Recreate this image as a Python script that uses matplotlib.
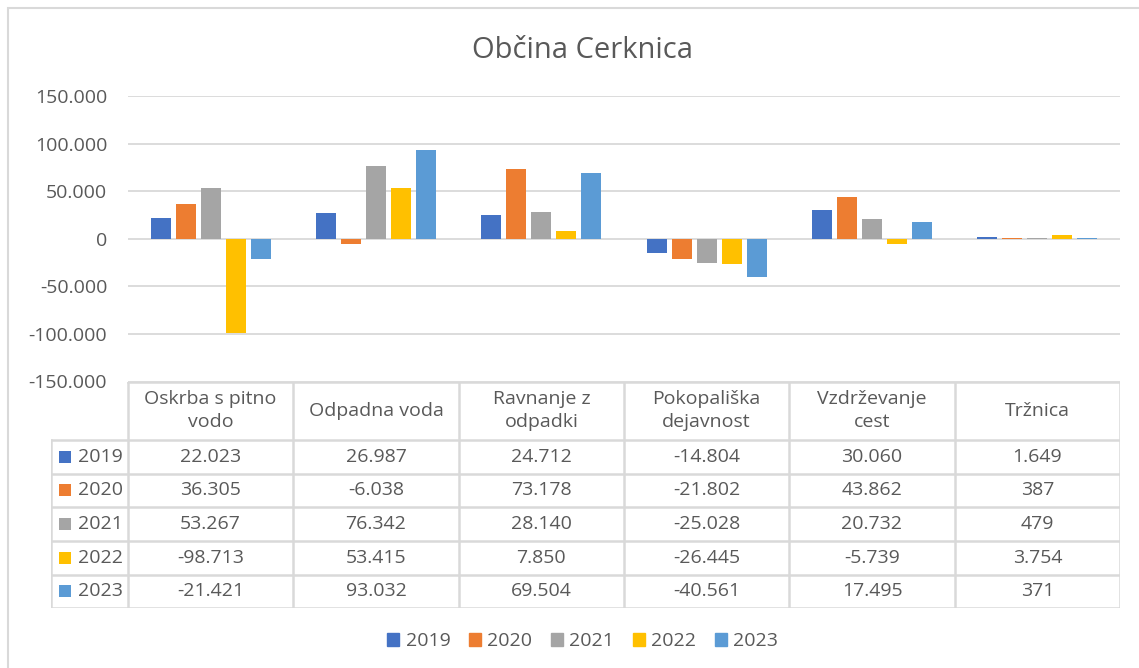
import matplotlib
matplotlib.use("Agg")
from matplotlib import pyplot as plt
from matplotlib.patches import Rectangle, Patch
import numpy as np

plt.rcParams["font.family"] = ["Open Sans", "DejaVu Sans"]

TITLE = "Občina Cerknica"
categories = ["Oskrba s pitno\nvodo", "Odpadna voda", "Ravnanje z\nodpadki",
              "Pokopališka\ndejavnost", "Vzdrževanje\ncest", "Tržnica"]
years = ["2019", "2020", "2021", "2022", "2023"]
values = {
    "2019": [22023, 26987, 24712, -14804, 30060, 1649],
    "2020": [36305, -6038, 73178, -21802, 43862, 387],
    "2021": [53267, 76342, 28140, -25028, 20732, 479],
    "2022": [-98713, 53415, 7850, -26445, -5739, 3754],
    "2023": [-21421, 93032, 69504, -40561, 17495, 371],
}
colors = ["#4472C4", "#ED7D31", "#A5A5A5", "#FFC000", "#5B9BD5"]
yticks = [-150000, -100000, -50000, 0, 50000, 100000, 150000]

TXT = "#595959"
GRID = "#D9D9D9"
W, H = 1139, 668
FS = 14


def fmt(v):
    return f"{v:,}".replace(",", ".")


fig = plt.figure(figsize=(W / 100, H / 100), dpi=100)

# outer frame
fig.add_artist(Rectangle((8 / W, -0.05), 1.1, 1 - 8 / H + 0.05, transform=fig.transFigure,
                         fill=False, edgecolor=GRID, lw=1.5))

# bar chart
x0, x1 = 128, 1120
top, bot = 96, 381.5
ax = fig.add_axes([x0 / W, 1 - bot / H, (x1 - x0) / W, (bot - top) / H])
x = np.arange(len(categories))
pitch = 25 / ((x1 - x0) / 6)
width = 20 / ((x1 - x0) / 6)
for i, (yr, c) in enumerate(zip(years, colors)):
    ax.bar(x + (i - 2) * pitch, values[yr], width=width, color=c, zorder=3)
ax.set_xlim(-0.5, len(categories) - 0.5)
ax.set_ylim(-150000, 150000)
ax.set_yticks(yticks)
ax.set_yticklabels([fmt(t) for t in yticks], color=TXT, fontsize=FS)
ax.tick_params(axis="y", length=0, pad=15)
ax.set_xticks([])
ax.grid(axis="y", color=GRID, lw=1.3)
for s in ax.spines.values():
    s.set_visible(False)

# data table
tl = 50.7
tb = 608.3
cw = (x1 - x0) / 6
row_h = (tb - 440) / 5
head = (440 - bot) / row_h
nrows = len(years)
tax = fig.add_axes([tl / W, 1 - tb / H, (x1 - tl) / W, (tb - bot) / H])
left = -0.5 - (x0 - tl) / cw
tax.set_xlim(left, len(categories) - 0.5)
tax.set_ylim(head + nrows, 0)
tax.axis("off")
lc = dict(color=GRID, lw=1.8, solid_capstyle="projecting")
tax.plot([-0.5, len(categories) - 0.5], [0, 0], **lc)
for r in range(nrows + 1):
    tax.plot([left, len(categories) - 0.5], [head + r, head + r], **lc)
tax.plot([left, left], [head, head + nrows], **lc)
for k in range(len(categories) + 1):
    tax.plot([k - 0.5, k - 0.5], [0, head + nrows], **lc)
for j, cat in enumerate(categories):
    tax.text(j, head / 2, cat, ha="center", va="center", color=TXT, fontsize=FS,
             linespacing=1.35)
for r, (yr, c) in enumerate(zip(years, colors)):
    yc = head + r + 0.5
    tax.scatter([left + 14.5 / cw], [yc], marker="s", s=75, color=c, linewidths=0)
    tax.text(left + 27 / cw, yc, yr, ha="left", va="center", color=TXT, fontsize=FS)
    for j, v in enumerate(values[yr]):
        tax.text(j, yc, fmt(v), ha="center", va="center", color=TXT, fontsize=FS)

# legend
handles = [Patch(color=c, label=yr) for yr, c in zip(years, colors)]
fig.legend(handles=handles, loc="center", bbox_to_anchor=(582.5 / W, 1 - 641.5 / H), ncol=5,
           frameon=False, fontsize=FS, labelcolor=TXT, handlelength=0.62,
           handleheight=0.62, handletextpad=0.33, columnspacing=0.95)

fig.text(582.5 / W, 1 - 50.5 / H, TITLE, ha="center", va="center", color=TXT, fontsize=21)

fig.savefig("out.png", dpi=100)
